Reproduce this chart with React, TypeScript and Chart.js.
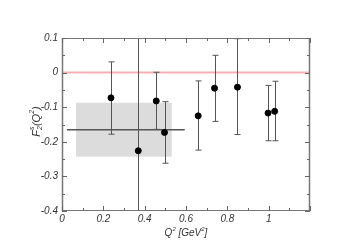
import React, { useEffect, useRef } from "react";
import { Chart, registerables } from "chart.js";

Chart.register(...registerables);

// ---- data ----
const qSquared = [0.237, 0.369, 0.456, 0.496, 0.659, 0.738, 0.849, 0.997, 1.029];
const f2sValues = [-0.073, -0.226, -0.082, -0.173, -0.125, -0.045, -0.042, -0.117, -0.112];
const errUpper = [0.031, 0.3, 0.001, -0.084, -0.024, 0.05, 0.098, -0.037, -0.025];
const errLower = [-0.178, -0.7, -0.164, -0.262, -0.224, -0.141, -0.179, -0.197, -0.197];

const bandX = [0.068, 0.531];
const bandY = [-0.243, -0.087];
const avgLineX = [0.024, 0.594];
const avgValue = -0.165;
const zeroLineX = [0, 1.2];
const zeroValue = 0;

const xTicksMajor = [0, 0.2, 0.4, 0.6, 0.8, 1.0, 1.2];
const xTicksMinor = [0.1, 0.3, 0.5, 0.7, 0.9, 1.1];
const yTicksMajor = [0.1, 0, -0.1, -0.2, -0.3, -0.4];
const yTicksMinor = [0.05, -0.05, -0.15, -0.25, -0.35];

const FONT = "'Liberation Sans', Arial, Helvetica, sans-serif";

function fmt(v: number): string {
  const r = Math.round(v * 10) / 10;
  if (Math.abs(r) < 1e-9) return "0";
  return String(r);
}

const framePlugin = {
  id: "framePlugin",
  beforeDatasetsDraw(chart: any) {
    const { ctx, chartArea: a, scales } = chart;
    const x = scales.x, y = scales.y;
    ctx.save();
    ctx.beginPath();
    ctx.rect(a.left, a.top, a.right - a.left, a.bottom - a.top);
    ctx.clip();
    // gray band
    ctx.fillStyle = "#dcdcdc";
    const bx0 = x.getPixelForValue(bandX[0]);
    const bx1 = x.getPixelForValue(bandX[1]);
    const by0 = y.getPixelForValue(bandY[1]);
    const by1 = y.getPixelForValue(bandY[0]);
    ctx.fillRect(bx0, by0, bx1 - bx0, by1 - by0);
    // zero line
    ctx.strokeStyle = "#f8b0b6";
    ctx.lineWidth = 2;
    ctx.beginPath();
    const zy = y.getPixelForValue(zeroValue);
    ctx.moveTo(x.getPixelForValue(zeroLineX[0]), zy);
    ctx.lineTo(x.getPixelForValue(zeroLineX[1]), zy);
    ctx.stroke();
    // error bars
    ctx.strokeStyle = "#555";
    ctx.lineWidth = 1;
    for (let i = 0; i < qSquared.length; i++) {
      const px = Math.round(x.getPixelForValue(qSquared[i])) + 0.5;
      const pt = y.getPixelForValue(errUpper[i]);
      const pb = y.getPixelForValue(errLower[i]);
      ctx.beginPath();
      ctx.moveTo(px, pt);
      ctx.lineTo(px, pb);
      ctx.moveTo(px - 3, pt);
      ctx.lineTo(px + 3, pt);
      ctx.moveTo(px - 3, pb);
      ctx.lineTo(px + 3, pb);
      ctx.stroke();
    }
    // average line
    ctx.strokeStyle = "#555";
    ctx.lineWidth = 1.5;
    const ay = y.getPixelForValue(avgValue);
    ctx.beginPath();
    ctx.moveTo(x.getPixelForValue(avgLineX[0]), ay);
    ctx.lineTo(x.getPixelForValue(avgLineX[1]), ay);
    ctx.stroke();
    ctx.restore();
  },
  afterDraw(chart: any) {
    const { ctx, chartArea: a, scales } = chart;
    const x = scales.x, y = scales.y;
    ctx.save();
    // frame
    ctx.strokeStyle = "#777";
    ctx.lineWidth = 1;
    ctx.strokeRect(a.left + 0.5, a.top + 0.5, a.right - a.left - 1, a.bottom - a.top - 1);
    ctx.lineWidth = 1.5;
    ctx.beginPath();
    ctx.moveTo(a.left + 0.5, a.top);
    ctx.lineTo(a.left + 0.5, a.bottom);
    ctx.moveTo(a.right - 0.5, a.top);
    ctx.lineTo(a.right - 0.5, a.bottom);
    ctx.stroke();
    // ticks
    ctx.lineWidth = 1;
    ctx.strokeStyle = "#666";
    ctx.beginPath();
    const tx = (v: number, len: number) => {
      const p = Math.round(x.getPixelForValue(v)) + 0.5;
      ctx.moveTo(p, a.bottom);
      ctx.lineTo(p, a.bottom - len);
      ctx.moveTo(p, a.top);
      ctx.lineTo(p, a.top + len);
    };
    const ty = (v: number, len: number) => {
      const p = Math.round(y.getPixelForValue(v)) + 0.5;
      ctx.moveTo(a.left, p);
      ctx.lineTo(a.left + len, p);
      ctx.moveTo(a.right, p);
      ctx.lineTo(a.right - len, p);
    };
    xTicksMajor.forEach((v) => tx(v, 5));
    xTicksMinor.forEach((v) => tx(v, 3));
    yTicksMajor.forEach((v) => ty(v, 5));
    yTicksMinor.forEach((v) => ty(v, 3));
    ctx.stroke();

    // axis titles
    ctx.fillStyle = "#333";
    // x title: Q^2 [GeV^2]
    const cx = (a.left + a.right) / 2;
    const baseY = a.bottom + 25;
    const big = "italic 10px " + FONT;
    const small = "italic 6px " + FONT;
    const parts: [string, string, number][] = [
      ["Q", big, 0],
      ["2", small, -5],
      [" [GeV", big, 0],
      ["2", small, -5],
      ["]", big, 0],
    ];
    let total = 0;
    parts.forEach(([t, f]) => {
      ctx.font = f;
      total += ctx.measureText(t).width;
    });
    let cur = cx - total / 2;
    ctx.textBaseline = "alphabetic";
    ctx.textAlign = "left";
    parts.forEach(([t, f, dy]) => {
      ctx.font = f;
      ctx.fillText(t, cur, baseY + dy);
      cur += ctx.measureText(t).width;
    });

    // y title: F_2^s(Q^2), rotated
    const ybig = "italic 11px " + FONT;
    const ysmall = "italic 7px " + FONT;
    ctx.save();
    ctx.translate(a.left - 25, (a.top + a.bottom) / 2 - 3);
    ctx.rotate(-Math.PI / 2);
    const yparts: [string, string, number, boolean][] = [
      ["F", ybig, 0, false],
      ["s", ysmall, -6, true],
      ["2", ysmall, 2, false],
      ["(Q", ybig, 0, false],
      ["2", ysmall, -6, false],
      [")", ybig, 0, false],
    ];
    let ytotal = 0;
    yparts.forEach(([t, f, , noAdvance]) => {
      ctx.font = f;
      if (!noAdvance) ytotal += ctx.measureText(t).width;
    });
    let yc = -ytotal / 2;
    yparts.forEach(([t, f, dy, noAdvance]) => {
      ctx.font = f;
      ctx.fillText(t, yc, 3 + dy);
      if (!noAdvance) yc += ctx.measureText(t).width;
    });
    ctx.restore();
    ctx.restore();
  },
};

export default function App() {
  const ref = useRef<HTMLCanvasElement | null>(null);
  useEffect(() => {
    document.body.style.margin = "0";
    if (!ref.current) return;
    const chart = new Chart(ref.current, {
      type: "scatter",
      data: {
        datasets: [
          {
            data: qSquared.map((q, i) => ({ x: q, y: f2sValues[i] })),
            backgroundColor: "#000",
            borderColor: "#000",
            pointRadius: 3,
            pointHoverRadius: 3,
          },
        ],
      },
      options: {
        animation: false,
        responsive: false,
        maintainAspectRatio: false,
        events: [],
        layout: { padding: { top: 38, right: 41, left: 0, bottom: 0 } },
        plugins: { legend: { display: false }, tooltip: { enabled: false } },
        scales: {
          x: {
            type: "linear",
            min: 0,
            max: 1.2,
            grid: { display: false, drawTicks: false },
            border: { display: false },
            afterFit: (s: any) => {
              s.height = 37;
            },
            afterBuildTicks: (s: any) => {
              s.ticks = xTicksMajor.map((v) => ({ value: v }));
            },
            ticks: {
              padding: 2,
              color: "#333",
              font: { family: FONT, size: 10, style: "italic" },
              maxRotation: 0,
              autoSkip: false,
              callback: (v: any) => (Math.abs(v - 1.2) < 1e-6 ? "" : fmt(Number(v))),
            },
          },
          y: {
            type: "linear",
            min: -0.4,
            max: 0.1,
            grid: { display: false, drawTicks: false },
            border: { display: false },
            afterFit: (s: any) => {
              s.width = 62;
            },
            afterBuildTicks: (s: any) => {
              s.ticks = yTicksMajor.map((v) => ({ value: v }));
            },
            ticks: {
              padding: 4,
              color: "#333",
              font: { family: FONT, size: 10, style: "italic" },
              autoSkip: false,
              callback: (v: any) => fmt(Number(v)),
            },
          },
        },
      },
      plugins: [framePlugin],
    });
    return () => chart.destroy();
  }, []);
  return (
    <div style={{ width: 351, height: 248, position: "relative" }}>
      <canvas ref={ref} width={351} height={248} style={{ display: "block" }} />
    </div>
  );
}
